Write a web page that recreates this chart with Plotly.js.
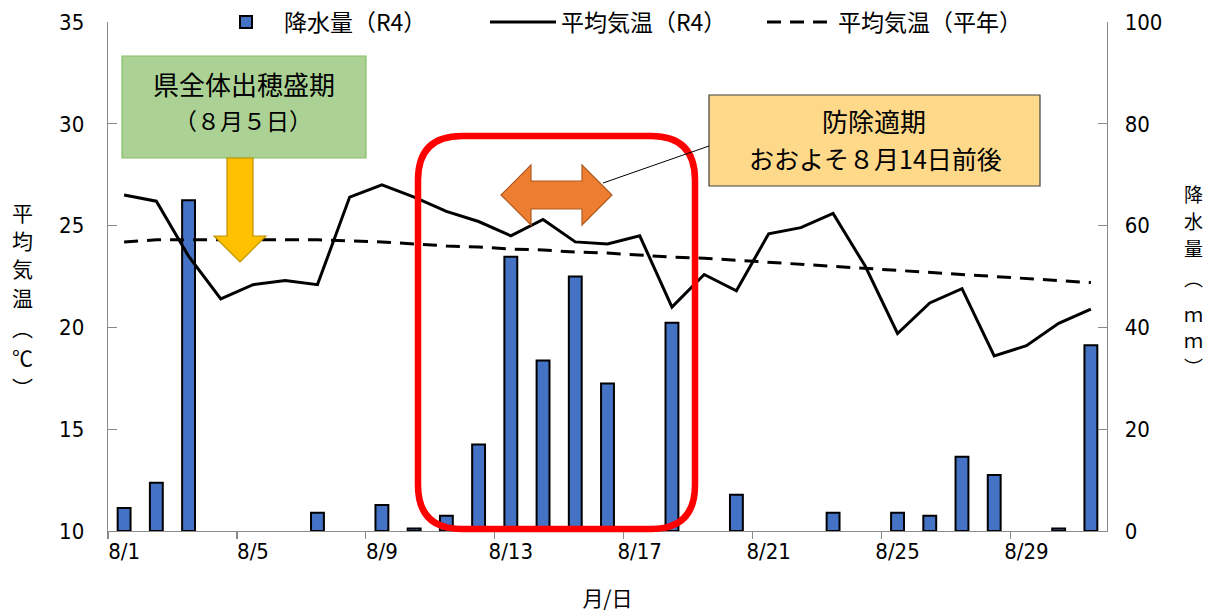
<!DOCTYPE html>
<html><head><meta charset="utf-8">
<script src="https://cdn.plot.ly/plotly-3.0.1.min.js"></script>
<style>html,body{margin:0;padding:0;background:#fff}#chart{width:1210px;height:613px}</style>
</head><body><div id="chart"></div>
<script>
const days = ['8/1','8/2','8/3','8/4','8/5','8/6','8/7','8/8','8/9','8/10','8/11','8/12','8/13','8/14','8/15','8/16','8/17','8/18','8/19','8/20','8/21','8/22','8/23','8/24','8/25','8/26','8/27','8/28','8/29','8/30','8/31'];
const precipR4 = [4.5, 9.5, 65, 0, 0, 0, 3.6, 0, 5.1, 0.5, 3.0, 17.0, 53.9, 33.5, 50.0, 29.0, 0, 40.9, 0, 7.1, 0, 0, 3.6, 0, 3.6, 3.0, 14.6, 11.0, 0, 0.5, 36.5];
const tempR4 = [26.5, 26.2, 23.5, 21.4, 22.1, 22.3, 22.1, 26.4, 27.0, 26.4, 25.7, 25.2, 24.5, 25.3, 24.2, 24.1, 24.5, 21.0, 22.6, 21.8, 24.6, 24.9, 25.6, 23.0, 19.7, 21.2, 21.9, 18.6, 19.1, 20.2, 20.9];
const tempNormal = [24.2, 24.3, 24.3, 24.3, 24.3, 24.3, 24.3, 24.25, 24.2, 24.1, 24.0, 23.95, 23.85, 23.8, 23.7, 23.65, 23.55, 23.45, 23.4, 23.3, 23.2, 23.1, 23.0, 22.9, 22.8, 22.7, 22.6, 22.5, 22.4, 22.3, 22.2];
const seriesNames = ['降水量（R4）', '平均気温（R4）', '平均気温（平年）'];
const tempTicks = [10, 15, 20, 25, 30, 35];
const precipTicks = [0, 20, 40, 60, 80, 100];
const leftTitleChars = ['平', '均', '気', '温', '︵', '℃', '︶'];
const rightTitleChars = ['降', '水', '量', '︵', 'ｍ', 'ｍ', '︶'];

const W = 1210, H = 613;
const M = {l: 108, r: 103, t: 22, b: 82, autoexpand: false};
const PW = W - M.l - M.r, PH = H - M.t - M.b;
const px = x => (x - M.l) / PW;
const py = y => (H - M.b - y) / PH;
const poly = pts => 'M' + pts.map(p => px(p[0]).toFixed(5) + ',' + py(p[1]).toFixed(5)).join(' L') + ' Z';
function roundRect(x0, y0, x1, y1, r) {
  const L = px(x0), R = px(x1), T = py(y0), B = py(y1);
  const rx = r / PW, ry = r / PH;
  const f = v => v.toFixed(5);
  return `M${f(L+rx)},${f(T)} L${f(R-rx)},${f(T)} Q${f(R)},${f(T)} ${f(R)},${f(T-ry)} L${f(R)},${f(B+ry)} Q${f(R)},${f(B)} ${f(R-rx)},${f(B)} L${f(L+rx)},${f(B)} Q${f(L)},${f(B)} ${f(L)},${f(B+ry)} L${f(L)},${f(T-ry)} Q${f(L)},${f(T)} ${f(L+rx)},${f(T)} Z`;
}

const JP = '"Noto Sans CJK JP", "Noto Sans", sans-serif';
const NUM = '"DejaVu Sans Condensed", "DejaVu Sans", sans-serif';
const numFont = {family: NUM, size: 22, color: '#000', stretch: 'condensed'};

const traces = [
  {type: 'bar', x: days, y: precipR4.map(v => v === 0 ? null : v), name: seriesNames[0], yaxis: 'y', width: 0.4,
   marker: {color: '#4472c4', line: {color: '#000000', width: 2}}},
  {type: 'scatter', mode: 'lines', x: days, y: tempR4, name: seriesNames[1], yaxis: 'y2',
   line: {color: '#000000', width: 3}},
  {type: 'scatter', mode: 'lines', x: days, y: tempNormal, name: seriesNames[2], yaxis: 'y2',
   line: {color: '#000000', width: 3, dash: '14px,9px'}}
];

const axisLine = '#8a8a8a';
const annotations = [
  {xref: 'paper', yref: 'paper', x: px(244), y: py(84), text: '県全体出穂盛期', showarrow: false,
   xanchor: 'center', yanchor: 'middle', font: {family: JP, size: 26, color: '#000'}},
  {xref: 'paper', yref: 'paper', x: px(243), y: py(120), text: '（８月５日）', showarrow: false,
   xanchor: 'center', yanchor: 'middle', font: {family: JP, size: 23, color: '#000'}},
  {xref: 'paper', yref: 'paper', x: px(874), y: py(121), text: '防除適期', showarrow: false,
   xanchor: 'center', yanchor: 'middle', font: {family: JP, size: 26, color: '#000'}},
  {xref: 'paper', yref: 'paper', x: px(875), y: py(158), text: 'おおよそ８月14日前後', showarrow: false,
   xanchor: 'center', yanchor: 'middle', font: {family: JP, size: 25, color: '#000'}}
];
const leftY = [212, 240, 268, 297, 327, 357, 387];
leftTitleChars.forEach((c, i) => annotations.push({xref: 'paper', yref: 'paper', x: px(22), y: py(leftY[i]), text: c,
  showarrow: false, xanchor: 'center', yanchor: 'middle', font: {family: JP, size: 21, color: '#000'}}));
const rightY = [193, 220, 247, 277, 313, 340, 367];
rightTitleChars.forEach((c, i) => annotations.push({xref: 'paper', yref: 'paper', x: px(1193), y: py(rightY[i]), text: c,
  showarrow: false, xanchor: 'center', yanchor: 'middle', font: {family: JP, size: 19, color: '#000'}}));

const layout = {
  width: W, height: H,
  margin: M,
  paper_bgcolor: '#ffffff', plot_bgcolor: '#ffffff',
  font: {family: JP, color: '#000000'},
  showlegend: true,
  legend: {orientation: 'h', x: 0.516, xanchor: 'center', y: 1.0, yanchor: 'middle',
    font: {family: JP, size: 23, color: '#000'}, itemwidth: 66, entrywidth: 196,
    bgcolor: 'rgba(255,255,255,0)'},
  xaxis: {type: 'category', range: [-0.5, 30.5], tickmode: 'linear', tick0: 0, dtick: 4,
    tickson: 'boundaries', ticks: 'outside', ticklen: 7, tickcolor: axisLine, tickwidth: 1.3,
    showline: true, linecolor: axisLine, linewidth: 1.3, showgrid: false, zeroline: false,
    tickangle: 0, tickfont: numFont, automargin: false,
    title: {text: '月/日', font: {family: JP, size: 21, color: '#000'}, standoff: 28}},
  yaxis: {side: 'right', range: [0, 100], tickmode: 'array', tickvals: precipTicks,
    ticks: 'inside', ticklen: 9, tickcolor: axisLine, tickwidth: 1.3, automargin: false,
    showline: true, linecolor: axisLine, linewidth: 1.3, showgrid: false, zeroline: false,
    tickfont: numFont, ticklabelstandoff: 12},
  yaxis2: {side: 'left', overlaying: 'y', range: [10, 35], tickmode: 'array', tickvals: tempTicks,
    ticks: 'inside', ticklen: 9, tickcolor: axisLine, tickwidth: 1.3, automargin: false,
    showline: true, linecolor: axisLine, linewidth: 1.3, showgrid: false, zeroline: false,
    tickfont: numFont, ticklabelstandoff: 18},
  shapes: [
    {type: 'path', xref: 'paper', yref: 'paper', layer: 'above', path: roundRect(418, 136, 695, 529, 44),
     line: {color: '#ff0000', width: 6.5}, fillcolor: 'rgba(0,0,0,0)'},
    {type: 'rect', xref: 'paper', yref: 'paper', layer: 'above', x0: px(122), x1: px(366), y0: py(56), y1: py(158),
     fillcolor: '#abd294', line: {color: '#86bf64', width: 1.2}},
    {type: 'path', xref: 'paper', yref: 'paper', layer: 'above',
     path: poly([[227,158],[253,158],[253,236],[266,236],[240,262],[214,236],[227,236]]),
     fillcolor: '#ffc000', line: {color: '#c09000', width: 1.2}},
    {type: 'rect', xref: 'paper', yref: 'paper', layer: 'above', x0: px(709), x1: px(1040), y0: py(95), y1: py(186),
     fillcolor: '#ffd98a', line: {color: '#404040', width: 1.2}},
    {type: 'line', xref: 'paper', yref: 'paper', layer: 'above', x0: px(603), y0: py(183), x1: px(709), y1: py(146),
     line: {color: '#000000', width: 1}},
    {type: 'path', xref: 'paper', yref: 'paper', layer: 'above',
     path: poly([[501,195],[531,165],[531,181],[582,181],[582,165],[612,195],[582,225],[582,209],[531,209],[531,225]]),
     fillcolor: '#ed7d31', line: {color: '#ae5a21', width: 1.2}}
  ],
  annotations: annotations
};

Plotly.newPlot('chart', traces, layout, {displayModeBar: false, staticPlot: true});
</script>
</body></html>
